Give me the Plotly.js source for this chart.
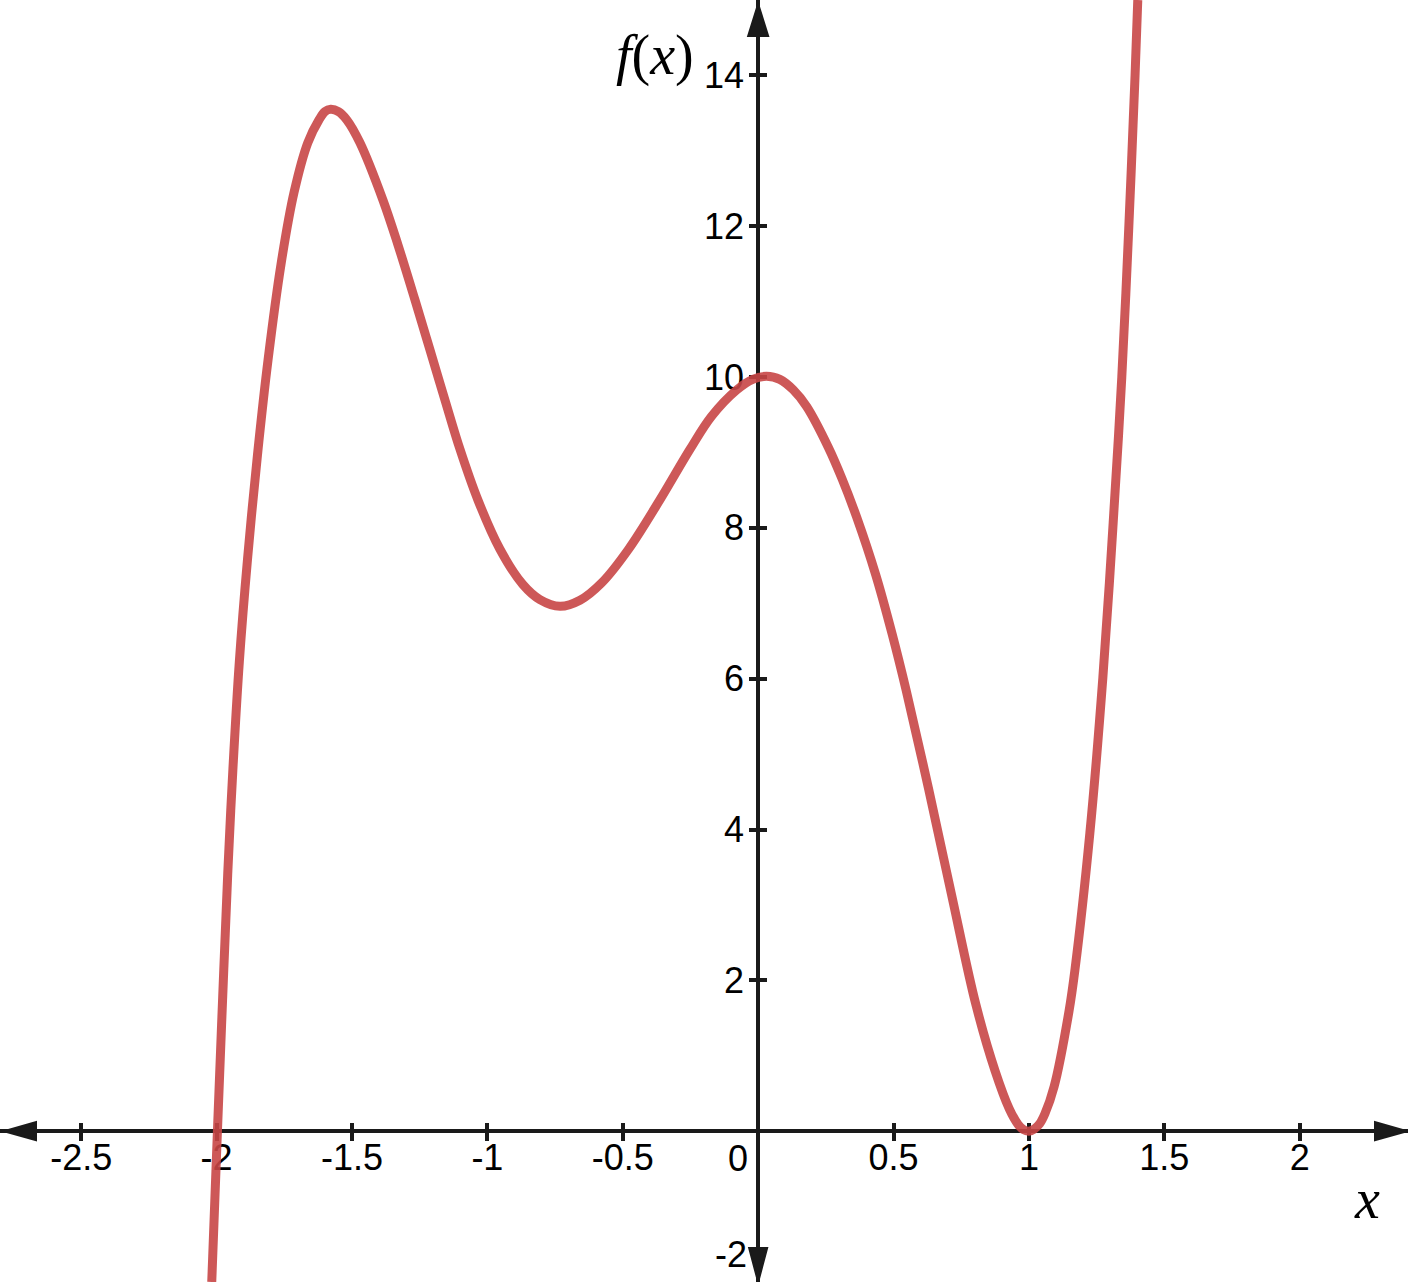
<!DOCTYPE html>
<html>
<head>
<meta charset="utf-8">
<script src="https://cdn.plot.ly/plotly-3.0.1.min.js"></script>
<style>
html,body{margin:0;padding:0;background:#ffffff;}
#chart{width:1408px;height:1282px;}
</style>
</head>
<body>
<div id="chart"></div>
<script>
// Values
const xValues = [-2.018, -1.997, -1.978, -1.959, -1.940, -1.916, -1.886, -1.849, -1.810, -1.762,
                 -1.714, -1.663, -1.622, -1.600, -1.579, -1.550, -1.519, -1.471, -1.386, -1.330,
                 -1.268, -1.212, -1.157, -1.101, -1.035, -0.954, -0.869, -0.806, -0.732, -0.658,
                 -0.578, -0.480, -0.363, -0.252, -0.172, -0.079, -0.020, 0.031, 0.080, 0.130,
                 0.179, 0.259, 0.310, 0.364, 0.434, 0.495, 0.547, 0.630, 0.714, 0.804,
                 0.875, 0.927, 0.960, 0.980, 1.000, 1.020, 1.040, 1.059, 1.093, 1.148,
                 1.170, 1.225, 1.273, 1.310, 1.343, 1.369, 1.392, 1.402];
const fValues = [-2.00, 0.00, 1.74, 3.41, 4.79, 6.23, 7.58, 8.97, 10.23, 11.50,
                 12.45, 13.11, 13.41, 13.52, 13.55, 13.52, 13.41, 13.11, 12.35, 11.75,
                 11.03, 10.36, 9.70, 9.04, 8.37, 7.72, 7.25, 7.05, 6.96, 7.04,
                 7.27, 7.71, 8.37, 9.04, 9.48, 9.83, 9.97, 10.01, 9.97, 9.83,
                 9.61, 9.07, 8.65, 8.14, 7.38, 6.59, 5.84, 4.53, 3.14, 1.68,
                 0.80, 0.30, 0.09, 0.02, 0.00, 0.03, 0.10, 0.23, 0.59, 1.59,
                 2.14, 3.95, 6.01, 8.00, 10.00, 12.00, 14.00, 15.00];
const xTickVals = [-2.5, -2, -1.5, -1, -0.5, 0.5, 1, 1.5, 2];
const xTickText = ['-2.5', '-2', '-1.5', '-1', '-0.5', '0.5', '1', '1.5', '2'];
const yTickVals = [2, 4, 6, 8, 10, 12, 14];
const yTickText = ['2', '4', '6', '8', '10', '12', '14'];
const xRange = [-2.8, 2.4];
const yRange = [-2, 15];

const W = 1408, H = 1282;
const TICK_HALF = 9;
const AXIS_COLOR = '#1a1a1a';
const labelFont = {family: 'Liberation Sans, Arial, Helvetica, sans-serif', size: 36, color: '#000000'};
const mathFont = {family: 'Liberation Serif, Times New Roman, serif', size: 56, color: '#000000'};

const xAxisPos = (0 - yRange[0]) / (yRange[1] - yRange[0]) + TICK_HALF / H;
const yAxisPos = (0 - xRange[0]) / (xRange[1] - xRange[0]) + TICK_HALF / W;

const trace = {
  x: xValues,
  y: fValues,
  type: 'scatter',
  mode: 'lines',
  line: {color: 'rgb(200,70,70)', width: 9, shape: 'spline', smoothing: 1},
  opacity: 0.9,
  hoverinfo: 'skip',
  showlegend: false
};

const layout = {
  width: W,
  height: H,
  margin: {l: 0, r: 0, t: 0, b: 0, pad: 0},
  paper_bgcolor: '#ffffff',
  plot_bgcolor: '#ffffff',
  showlegend: false,
  xaxis: {
    range: xRange,
    anchor: 'free',
    position: xAxisPos,
    showgrid: false,
    showline: false,
    zeroline: true,
    zerolinecolor: AXIS_COLOR,
    zerolinewidth: 4,
    tickmode: 'array',
    tickvals: xTickVals,
    ticktext: xTickText,
    ticks: 'outside',
    ticklen: 2 * TICK_HALF,
    tickwidth: 4,
    tickcolor: AXIS_COLOR,
    tickfont: labelFont,
    ticklabelstandoff: -14,
    layer: 'below traces',
    fixedrange: true
  },
  yaxis: {
    range: yRange,
    anchor: 'free',
    position: yAxisPos,
    showgrid: false,
    showline: false,
    zeroline: true,
    zerolinecolor: AXIS_COLOR,
    zerolinewidth: 4,
    tickmode: 'array',
    tickvals: yTickVals,
    ticktext: yTickText,
    ticks: 'outside',
    ticklen: 2 * TICK_HALF,
    tickwidth: 4,
    tickcolor: AXIS_COLOR,
    tickfont: labelFont,
    ticklabelstandoff: -2,
    layer: 'below traces',
    fixedrange: true
  },
  shapes: [
    {type: 'path', xref: 'paper', yref: 'y', xsizemode: 'pixel', ysizemode: 'pixel',
     xanchor: 1, yanchor: 0, path: 'M-1,0 L-33,9 L-33,-9 Z',
     fillcolor: AXIS_COLOR, line: {color: AXIS_COLOR, width: 2}},
    {type: 'path', xref: 'paper', yref: 'y', xsizemode: 'pixel', ysizemode: 'pixel',
     xanchor: 0, yanchor: 0, path: 'M4,0 L36,9 L36,-9 Z',
     fillcolor: AXIS_COLOR, line: {color: AXIS_COLOR, width: 2}},
    {type: 'path', xref: 'x', yref: 'paper', xsizemode: 'pixel', ysizemode: 'pixel',
     xanchor: 0, yanchor: 1, path: 'M0,-4 L-10,-36 L10,-36 Z',
     fillcolor: AXIS_COLOR, line: {color: AXIS_COLOR, width: 2}},
    {type: 'path', xref: 'x', yref: 'paper', xsizemode: 'pixel', ysizemode: 'pixel',
     xanchor: 0, yanchor: 0, path: 'M0,0 L-9,34 L9,34 Z',
     fillcolor: AXIS_COLOR, line: {color: AXIS_COLOR, width: 2}}
  ],
  annotations: [
    {text: '0', xref: 'x', yref: 'y', x: 0, y: 0, xanchor: 'right', yanchor: 'top',
     xshift: -8, yshift: -5, showarrow: false, font: labelFont},
    {text: '-2', xref: 'x', yref: 'y', x: 0, y: yRange[0], xanchor: 'right', yanchor: 'bottom',
     xshift: -9, yshift: 5, showarrow: false, font: labelFont},
    {text: '<i>f</i>(<i>x</i>)', xref: 'paper', yref: 'paper', x: 696 / W, y: 1 - 55 / H,
     xanchor: 'right', yanchor: 'middle', showarrow: false, font: mathFont},
    {text: '<i>x</i>', xref: 'paper', yref: 'paper', x: 1367 / W, y: 1 - 1199 / H,
     xanchor: 'center', yanchor: 'middle', showarrow: false, font: mathFont}
  ]
};

Plotly.newPlot('chart', [trace], layout, {displayModeBar: false, staticPlot: true});
</script>
</body>
</html>
